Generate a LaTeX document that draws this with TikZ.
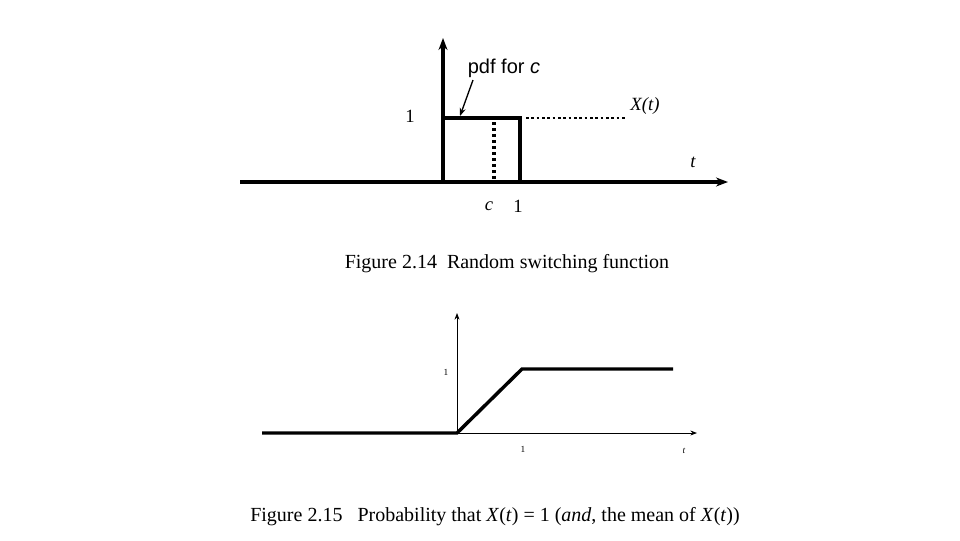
\documentclass[tikz,border=0pt]{standalone}
\usepackage{fontspec}
\usetikzlibrary{arrows.meta}
\setmainfont{Liberation Serif}
\newfontfamily\sansf{Liberation Sans}
\begin{document}
\begin{tikzpicture}[x=0.75pt,y=-0.75pt,
  thick line/.style={line width=3.2pt},
  thin axis/.style={line width=0.6pt,-{Stealth[length=5pt]}},
  captext/.style={font=\fontsize{15}{18}\selectfont},
  lbl/.style={font=\fontsize{14}{16}\selectfont},
  small/.style={font=\fontsize{7}{8}\selectfont}]
\useasboundingbox (0,0) rectangle (960,540);
% top figure
\coordinate (o) at (443,182);
\coordinate (xe) at (728,182);
\coordinate (ye) at (443,38);
\coordinate (ra) at (443,118);
\coordinate (rb) at (520,118);
\coordinate (rc) at (520,182);
\coordinate (da) at (494,122);
\coordinate (db) at (494,182);
\coordinate (ea) at (526,118);
\coordinate (eb) at (625,118);
\draw[thick line,-{Stealth[length=9pt]}] (240,182) -- (xe);
\draw[thick line,-{Stealth[length=9pt]}] (o) -- (ye);
\draw[thick line] (ra) -- (rb) -- (rc);
\draw[line width=2.5pt,dotted] (da) -- (db);
\draw[line width=2pt,dotted] (ea) -- (eb);
\node[font=\itshape\fontsize{14}{16}\selectfont] (xt) at (645,106) {X(t)};
\node[lbl] (tt) at (693,162) {\itshape t};
\node[lbl] (one) at (410,116) {1};
\node[lbl] (c) at (489,206) {\itshape c};
\node[lbl] (onex) at (518,206) {1};
\node[font=\sansf\fontsize{15}{17}\selectfont] (pdf) at (504,68) {pdf for \textit{c}};
\coordinate (pa) at (473,80);
\coordinate (pb) at (460,116);
\draw[line width=1pt,-{Stealth[length=6pt]}] (pa) -- (pb);
% bottom figure
\coordinate (o2) at (457,433);
\draw[thin axis] (o2) -- (457,313);
\draw[thin axis] (o2) -- (697,433);
\draw[line width=2.6pt] (262,433) -- (o2) -- (522,369) -- (673,369);
\node[small] (y1) at (446,372) {1};
\node[small] (x1) at (523,449) {1};
\node[small] (t2) at (684,451) {\itshape t};
% captions
\node[captext] (c1) at (507,264) {Figure 2.14\ \ Random switching function};
\node[captext] (c2) at (495,517) {Figure 2.15\ \ \ Probability that \textit{X}(\textit{t}) = 1 (\textit{and}, the mean of \textit{X}(\textit{t}))};
\end{tikzpicture}
\end{document}
